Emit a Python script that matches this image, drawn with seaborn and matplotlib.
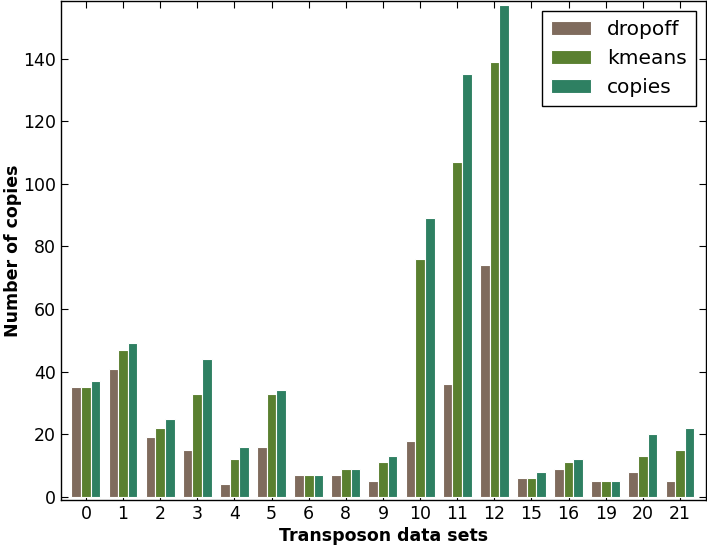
import pandas as pd
import matplotlib
matplotlib.use('Agg')
import matplotlib.pyplot as plt
import seaborn as sns

datasets = ['0', '1', '2', '3', '4', '5', '6', '8', '9', '10', '11', '12',
            '15', '16', '19', '20', '21']
dropoff = [35, 41, 19, 15, 4, 16, 7, 7, 5, 18, 36, 74, 6, 9, 5, 8, 5]
kmeans = [35, 47, 22, 33, 12, 33, 7, 9, 11, 76, 107, 139, 6, 11, 5, 13, 15]
copies = [37, 49, 25, 44, 16, 34, 7, 9, 13, 89, 135, 157, 8, 12, 5, 20, 22]

dados = pd.DataFrame({'dataset': datasets, 'dropoff': dropoff,
                      'kmeans': kmeans, 'copies': copies})
dados = dados.melt(id_vars='dataset', var_name='method', value_name='n')

cores = {'dropoff': '#7f6b5d', 'kmeans': '#5a8030', 'copies': '#2e8062'}

sns.set_style('white')
plt.rcParams['font.family'] = ['DejaVu Sans']
plt.rcParams['text.color'] = 'black'
plt.rcParams['axes.labelcolor'] = 'black'
plt.rcParams['xtick.color'] = 'black'
plt.rcParams['ytick.color'] = 'black'
plt.rcParams['xtick.direction'] = 'in'
plt.rcParams['ytick.direction'] = 'in'

fig = plt.figure(figsize=(7.07, 5.48), dpi=100)
ax = fig.add_axes([61 / 707, 48 / 548, 645 / 707, 499 / 548])
sns.barplot(data=dados, x='dataset', y='n', hue='method', order=datasets,
            palette=cores, width=0.78, edgecolor='white', linewidth=0.8,
            saturation=1, ax=ax)

ax.set_xlim(-0.67, 16.7)
ax.set_ylim(-1, 158.4)
ax.set_yticks(range(0, 141, 20))
ax.set_xlabel('Transposon data sets', fontsize=12.5, fontweight='bold', labelpad=3)
ax.set_ylabel('Number of copies', fontsize=12.5, fontweight='bold', labelpad=1)
ax.tick_params(axis='both', labelsize=12.5, length=5, width=0.8,
               top=True, right=True, bottom=True, left=True, pad=3.5)
for s in ax.spines.values():
    s.set_color('black')
    s.set_linewidth(1.0)

leg = ax.legend(title=None, fontsize=14.5, loc='upper right', frameon=True,
                fancybox=False, edgecolor='black', framealpha=1,
                borderaxespad=0.5, handlelength=2.0, handleheight=0.7,
                borderpad=0.45, labelspacing=0.5)
leg.get_frame().set_linewidth(1.0)

fig.savefig('out.png', dpi=100)
